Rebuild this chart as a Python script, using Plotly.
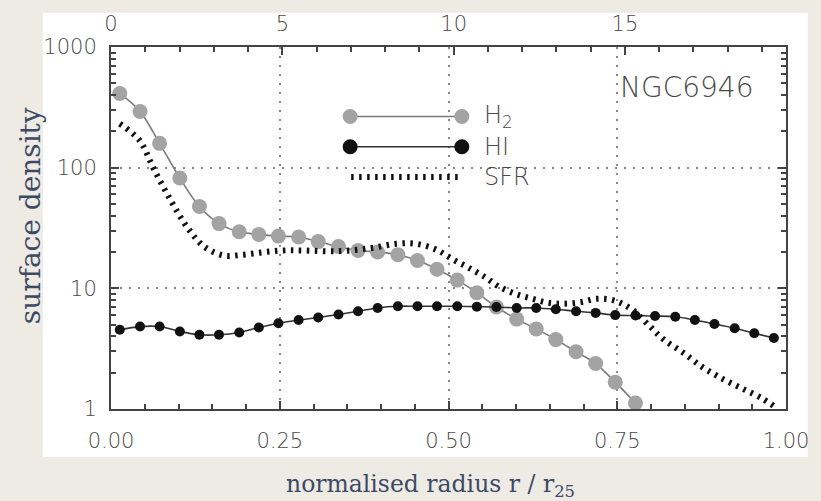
import plotly.graph_objects as go

# ---------------- data ----------------
r_h2 = [0.013, 0.043, 0.072, 0.102, 0.131, 0.160, 0.190, 0.219, 0.248, 0.278,
        0.307, 0.337, 0.366, 0.395, 0.425, 0.454, 0.483, 0.513, 0.542, 0.571,
        0.601, 0.630, 0.659, 0.689, 0.718, 0.747, 0.777]
h2 = [412, 292, 159, 82, 47.6, 34.4, 29.4, 28.0, 27.1, 26.6,
      24.4, 22.2, 20.6, 20.0, 19.0, 17.0, 14.4, 11.7, 9.2, 7.0,
      5.56, 4.61, 3.76, 2.98, 2.38, 1.67, 1.12]

r_hi = [0.013, 0.043, 0.072, 0.102, 0.131, 0.160, 0.190, 0.219, 0.248, 0.278,
        0.307, 0.337, 0.366, 0.395, 0.425, 0.454, 0.483, 0.513, 0.542, 0.571,
        0.601, 0.630, 0.659, 0.689, 0.718, 0.747, 0.777, 0.806, 0.836, 0.865,
        0.894, 0.924, 0.953, 0.982]
hi = [4.53, 4.82, 4.82, 4.39, 4.12, 4.12, 4.31, 4.73, 5.13, 5.46,
      5.73, 6.07, 6.46, 6.88, 7.10, 7.10, 7.10, 7.10, 7.05, 7.0,
      6.88, 6.88, 6.71, 6.46, 6.26, 6.0, 5.95, 5.9, 5.81, 5.46,
      5.07, 4.67, 4.25, 3.87]

r_sfr = [0.013, 0.042, 0.064, 0.089, 0.113, 0.138, 0.167, 0.196, 0.225, 0.255,
         0.284, 0.335, 0.384, 0.423, 0.452, 0.482, 0.507, 0.530, 0.555, 0.574,
         0.599, 0.624, 0.647, 0.672, 0.697, 0.720, 0.745, 0.770, 0.796, 0.818,
         0.848, 0.877, 0.906, 0.936, 0.965, 0.984]
sfr = [231, 169, 96, 53, 32, 22.2, 18.7, 19.0, 19.9, 20.6,
       20.6, 20.3, 21.5, 23.4, 23.4, 20.9, 17.3, 14.8, 12.3, 10.4,
       9.0, 8.2, 7.6, 7.46, 7.7, 8.2, 7.94, 6.79, 5.0, 3.8,
       2.92, 2.21, 1.78, 1.47, 1.22, 1.04]

R25_KPC = 19.7
x_ticks = [0, 0.25, 0.5, 0.75, 1.0]
x_ticktext = ["0.00", "0.25", "0.50", "0.75", "1.00"]
top_ticks = [0, 5, 10, 15]
y_ticks = [1, 10, 100, 1000]
y_ticktext = ["1", "10", "100", "1000"]
y_minor = [m * d for d in (1, 10, 100) for m in range(2, 10)]

# ---------------- styling ----------------
BG = "#eeeae4"
AX = "#444444"
TXT = "#4a4a4a"
TITLE = "#3c4a64"
tickfont = dict(family="DejaVu Sans", size=21, color=TXT, weight=300)
SFR_DASH = "2.5px,5.5px"

fig = go.Figure()

fig.add_trace(go.Scatter(
    x=r_h2, y=h2, mode="lines+markers", name="H2",
    line=dict(color="#7a7a7a", width=1.6, shape="spline", smoothing=1.0),
    marker=dict(color="#a3a3a3", size=15, line=dict(width=0)),
    showlegend=False))
fig.add_trace(go.Scatter(
    x=r_hi, y=hi, mode="lines+markers", name="HI",
    line=dict(color="#333333", width=1.6, shape="spline", smoothing=1.0),
    marker=dict(color="#111111", size=10, line=dict(width=0)),
    showlegend=False))
fig.add_trace(go.Scatter(
    x=r_sfr, y=sfr, mode="lines", name="SFR",
    line=dict(color="#111111", width=6, dash=SFR_DASH, shape="spline", smoothing=1.0),
    showlegend=False))
# invisible traces carrying the top (kpc) axis and the mirrored right axis
fig.add_trace(go.Scatter(
    x=[r * R25_KPC for r in r_hi], y=hi, xaxis="x2", mode="markers",
    marker=dict(opacity=0), hoverinfo="skip", showlegend=False))
fig.add_trace(go.Scatter(
    x=r_hi, y=hi, yaxis="y2", mode="markers",
    marker=dict(opacity=0), hoverinfo="skip", showlegend=False))

L, R, T, B = 111, 27, 39, 92
W, H = 821, 501
pw, ph = W - L - R, H - T - B

def px(xp):
    return (xp - L) / pw

def py(yp):
    return (H - B - yp) / ph

common_tick = dict(ticks="inside", ticklen=8, tickwidth=1.5, tickcolor=AX,
                   showline=True, linecolor=AX, linewidth=2, zeroline=False)

fig.update_layout(
    width=W, height=H,
    margin=dict(l=L, r=R, t=T, b=B),
    paper_bgcolor=BG, plot_bgcolor="white",
    xaxis=dict(
        range=[0, 1], tickvals=x_ticks, ticktext=x_ticktext, mirror=False,
        showgrid=True, gridcolor="#888888", gridwidth=1.5, griddash="2px,7px",
        minor=dict(dtick=0.05, ticks="inside", ticklen=5, tickwidth=1.5,
                   tickcolor=AX, showgrid=False),
        tickfont=tickfont, ticklabelstandoff=12, **common_tick),
    xaxis2=dict(
        range=[0, R25_KPC], overlaying="x", side="top", tickvals=top_ticks,
        showgrid=False,
        minor=dict(dtick=1, ticks="inside", ticklen=5, tickwidth=1.5,
                   tickcolor=AX, showgrid=False),
        tickfont=tickfont, ticklabelstandoff=6, **common_tick),
    yaxis=dict(
        type="log", range=[0, 3.0], tickvals=y_ticks, ticktext=y_ticktext,
        showgrid=True, gridcolor="#888888", gridwidth=1.5, griddash="2px,7px",
        minor=dict(tickvals=y_minor, ticks="inside", ticklen=5, tickwidth=1.5,
                   tickcolor=AX, showgrid=False),
        tickfont=tickfont, ticklabelstandoff=8, **common_tick),
    yaxis2=dict(
        type="log", range=[0, 3.0], tickvals=y_ticks, showticklabels=False,
        overlaying="y", side="right", showgrid=False,
        minor=dict(tickvals=y_minor, ticks="inside", ticklen=5, tickwidth=1.5,
                   tickcolor=AX, showgrid=False),
        **common_tick),
)

shapes = []
# white panel behind the chart
shapes.append(dict(type="rect", xref="paper", yref="paper", layer="below",
                   x0=px(42), x1=px(816), y0=py(458), y1=py(4),
                   fillcolor="white", line=dict(width=0)))

# hand-drawn legend (as in the reference)
leg_x0, leg_x1 = px(353), px(466)
rows = [
    (py(110), "#a3a3a3", "#7a7a7a", "H<sub>2</sub>"),
    (py(141), "#111111", "#333333", "HI"),
]
legfont = dict(family="DejaVu Sans", size=24, color=TXT, weight=300)
annotations = []
for yy, mcol, lcol, label in rows:
    shapes.append(dict(type="line", xref="paper", yref="paper",
                       x0=leg_x0, x1=leg_x1, y0=yy, y1=yy,
                       line=dict(color=lcol, width=1.6)))
    for xx in (leg_x0, leg_x1):
        shapes.append(dict(type="circle", xref="paper", yref="paper",
                           xsizemode="pixel", ysizemode="pixel",
                           xanchor=xx, yanchor=yy,
                           x0=-7.5, x1=7.5, y0=-7.5, y1=7.5,
                           fillcolor=mcol, line=dict(width=0)))
    annotations.append(dict(xref="paper", yref="paper", x=px(486), y=yy,
                            xanchor="left", yanchor="middle", showarrow=False,
                            text=label, font=legfont))
sfr_y = py(172)
shapes.append(dict(type="line", xref="paper", yref="paper",
                   x0=px(354), x1=px(465), y0=sfr_y, y1=sfr_y,
                   line=dict(color="#111111", width=6, dash=SFR_DASH)))
annotations.append(dict(xref="paper", yref="paper", x=px(486), y=sfr_y,
                        xanchor="left", yanchor="middle", showarrow=False,
                        text="SFR", font=legfont))

annotations.append(dict(xref="paper", yref="paper", x=px(624), y=py(80),
                        xanchor="left", yanchor="middle", showarrow=False,
                        text="NGC6946",
                        font=dict(family="DejaVu Sans", size=28, color=TXT, weight=300)))

# axis titles
annotations.append(dict(xref="paper", yref="paper", x=px(434), y=py(487),
                        xanchor="center", yanchor="middle", showarrow=False,
                        text="normalised radius r / r<sub>25</sub>",
                        font=dict(family="DejaVu Serif", size=23.5, color=TITLE)))
annotations.append(dict(xref="paper", yref="paper", x=px(29), y=py(211),
                        xanchor="center", yanchor="middle", showarrow=False,
                        textangle=-90, text="surface density",
                        font=dict(family="DejaVu Serif", size=28, color=TITLE)))

fig.update_layout(shapes=shapes, annotations=annotations)

fig.write_html("out.html")
